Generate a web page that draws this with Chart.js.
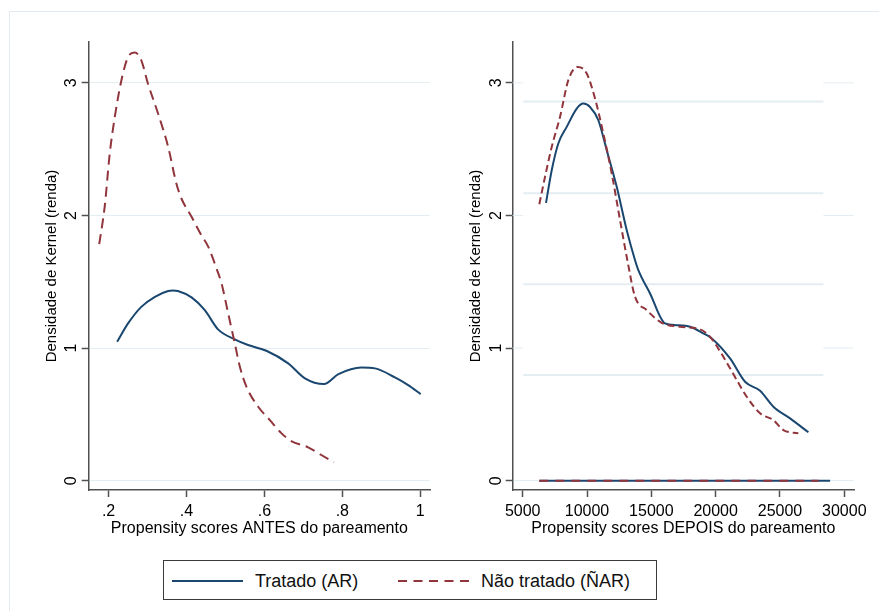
<!DOCTYPE html>
<html>
<head>
<meta charset="utf-8">
<script src="https://cdn.jsdelivr.net/npm/chart.js@4.4.1/dist/chart.umd.min.js"></script>
<style>
  html, body { margin: 0; padding: 0; background: #fff; }
  body { width: 879px; height: 611px; position: relative; overflow: hidden; font-family: "Liberation Sans", Arial, sans-serif; }
  #frame { position: absolute; left: 9px; top: 11px; width: 900px; height: 700px; border: 1px solid #e3ebf0; }
  canvas { position: absolute; top: 0; }
  #cLeft { left: 0; }
  #cRight { left: 440px; }
  #legend { position: absolute; left: 163px; top: 560px; width: 492px; height: 38px; border: 1px solid #3a3a3a; }
  #legend svg { position: absolute; top: 14px; }
  #legend span { position: absolute; top: 9px; font-size: 18px; color: #111; line-height: 22px; }
</style>
</head>
<body>
<div id="frame"></div>
<canvas id="cLeft" width="440" height="540"></canvas>
<canvas id="cRight" width="439" height="540"></canvas>
<div id="legend">
  <svg style="left:8px" width="72" height="12"><line x1="0" y1="6" x2="71" y2="6" stroke="#1a476f" stroke-width="2"/></svg>
  <span style="left:91px">Tratado (AR)</span>
  <svg style="left:234px" width="72" height="12"><line x1="0" y1="6" x2="71" y2="6" stroke="#90353b" stroke-width="2" stroke-dasharray="9 6.5"/></svg>
  <span style="left:317px">Não tratado (ÑAR)</span>
</div>
<script>
// left panel: before matching (propensity score)
const antesTratadoX = [0.222, 0.250, 0.284, 0.319, 0.353, 0.365, 0.378, 0.413, 0.447, 0.481, 0.524, 0.558, 0.605, 0.661, 0.704, 0.753, 0.790, 0.849, 0.884, 0.935, 0.969, 1.001];
const antesTratadoY = [1.048, 1.186, 1.311, 1.387, 1.430, 1.435, 1.430, 1.382, 1.286, 1.141, 1.066, 1.023, 0.980, 0.885, 0.772, 0.729, 0.804, 0.854, 0.847, 0.779, 0.721, 0.653];
const antesNaoX = [0.176, 0.190, 0.203, 0.216, 0.233, 0.250, 0.267, 0.284, 0.301, 0.327, 0.353, 0.374, 0.387, 0.413, 0.438, 0.456, 0.477, 0.490, 0.507, 0.524, 0.537, 0.554, 0.584, 0.614, 0.644, 0.669, 0.712, 0.746, 0.778];
const antesNaoY = [1.784, 2.065, 2.467, 2.743, 3.020, 3.195, 3.228, 3.170, 2.995, 2.769, 2.517, 2.241, 2.128, 1.990, 1.852, 1.763, 1.600, 1.487, 1.261, 1.035, 0.859, 0.708, 0.558, 0.457, 0.357, 0.299, 0.252, 0.194, 0.139];

// right panel: after matching
const depoisTratadoX = [6812, 7255, 7768, 8421, 9199, 9712, 10233, 10879, 11532, 12309, 13087, 13733, 13989, 14899, 16066, 16975, 18010, 19044, 19697, 21120, 22286, 23453, 24487, 25785, 27209];
const depoisTratadoY = [2.095, 2.341, 2.543, 2.668, 2.806, 2.844, 2.818, 2.718, 2.492, 2.216, 1.889, 1.663, 1.588, 1.412, 1.186, 1.173, 1.161, 1.111, 1.073, 0.922, 0.746, 0.678, 0.558, 0.470, 0.365];
const depoisNaoX = [6291, 6734, 7255, 7900, 8546, 9277, 9977, 10622, 11268, 11921, 12566, 13134, 13733, 14642, 15809, 17232, 18787, 19565, 20599, 21641, 22418, 23453, 24487, 25264, 26431];
const depoisNaoY = [2.085, 2.291, 2.517, 2.743, 3.020, 3.120, 3.070, 2.882, 2.618, 2.316, 1.965, 1.663, 1.387, 1.286, 1.191, 1.161, 1.141, 1.085, 0.934, 0.759, 0.633, 0.508, 0.457, 0.382, 0.357];
const zeroTratadoX = [6291, 28896];
const zeroNaoX = [6291, 28000];

// extra horizontal lines seen in the right panel
const refLevels = [2.859, 2.168, 1.482, 0.797];
const refRange = [5047, 28375];

// tick values
const yTicks = [0, 1, 2, 3];
const xTicksAntes = [0.2, 0.4, 0.6, 0.8, 1];
const xTicksDepois = [5000, 10000, 15000, 20000, 25000, 30000];

const BLUE = "#1a476f";
const RED = "#90353b";
const GRID = "#e4edf1";
const AXIS = "#505050";
const FONT = "'Liberation Sans', Arial, sans-serif";

const pts = (xs, ys) => xs.map((x, i) => ({ x: x, y: ys[i] }));

const line = (data, color, dash, order) => ({
  data: data,
  borderColor: color,
  borderWidth: 2,
  borderDash: dash,
  pointRadius: 0,
  fill: false,
  cubicInterpolationMode: "monotone",
  order: order
});

const refPlugin = {
  id: "refLines",
  beforeDatasetsDraw(chart) {
    if (chart.canvas.id !== "cRight") return;
    const { ctx, chartArea } = chart;
    const xs = chart.scales.x, ys = chart.scales.y;
    const a = xs.getPixelForValue(refRange[0]);
    const b = xs.getPixelForValue(refRange[1]);
    ctx.save();
    ctx.strokeStyle = GRID;
    ctx.lineWidth = 2;
    refLevels.forEach(v => {
      const py = ys.getPixelForValue(v);
      ctx.beginPath(); ctx.moveTo(a, py); ctx.lineTo(b, py); ctx.stroke();
    });
    ctx.lineWidth = 1;
    yTicks.filter(v => v > 0).forEach(v => {
      const py = ys.getPixelForValue(v);
      ctx.beginPath();
      ctx.moveTo(chartArea.left, py); ctx.lineTo(a, py);
      ctx.moveTo(b, py); ctx.lineTo(chartArea.right, py);
      ctx.stroke();
    });
    ctx.restore();
  }
};

function makeChart(id, cfg) {
  const ctx = document.getElementById(id).getContext("2d");
  return new Chart(ctx, {
    type: "line",
    data: { datasets: cfg.datasets },
    options: {
      responsive: false,
      animation: false,
      layout: { padding: { top: 42, right: cfg.padRight, left: 0, bottom: 0 } },
      plugins: { legend: { display: false }, tooltip: { enabled: false } },
      scales: {
        x: {
          type: "linear",
          min: cfg.xMin,
          max: cfg.xMax,
          afterFit: s => { s.height = 50; },
          afterBuildTicks: s => { s.ticks = cfg.xTicks.map(v => ({ value: v })); },
          border: { display: true, color: AXIS, width: 1.5 },
          grid: { drawOnChartArea: false, drawTicks: true, tickLength: 7, tickColor: AXIS, tickWidth: 1.5 },
          ticks: {
            autoSkip: false,
            maxRotation: 0,
            padding: 5,
            color: "#000",
            font: { family: FONT, size: 16 },
            callback: cfg.xFormat
          },
          title: {
            display: true,
            text: cfg.xTitle,
            color: "#000",
            font: { family: FONT, size: 16 },
            padding: { top: 0, bottom: 2 }
          }
        },
        y: {
          type: "linear",
          min: -0.07,
          max: 3.308,
          afterFit: s => { s.width = cfg.yWidth; },
          afterBuildTicks: s => { s.ticks = yTicks.map(v => ({ value: v })); },
          border: { display: true, color: AXIS, width: 1.5 },
          grid: {
            color: cfg.gridColor,
            lineWidth: 1,
            drawTicks: true,
            tickLength: 7,
            tickColor: AXIS,
            tickWidth: 1.5
          },
          ticks: {
            minRotation: 90,
            maxRotation: 90,
            crossAlign: "center",
            padding: cfg.yPad,
            color: "#000",
            font: { family: FONT, size: 16 }
          },
          title: {
            display: true,
            text: "Densidade de Kernel (renda)",
            color: "#000",
            font: { family: FONT, size: 15 },
            padding: { top: cfg.yTitlePad, bottom: 0 }
          }
        }
      }
    },
    plugins: [refPlugin]
  });
}

makeChart("cLeft", {
  datasets: [
    line(pts(antesNaoX, antesNaoY), RED, [10, 6], 0),
    line(pts(antesTratadoX, antesTratadoY), BLUE, [], 1)
  ],
  xMin: 0.149, xMax: 1.025, xTicks: xTicksAntes,
  xFormat: v => String(+v.toFixed(1)).replace(/^0\./, "."),
  xTitle: "Propensity scores ANTES do pareamento",
  yWidth: 88.7, padRight: 10, yPad: 5.5, yTitlePad: 42.5,
  gridColor: GRID
});

makeChart("cRight", {
  datasets: [
    line(pts(depoisNaoX, depoisNaoY), RED, [7, 4], 0),
    line(pts(zeroNaoX, zeroNaoX.map(() => 0)), RED, [9, 7], 0),
    line(pts(depoisTratadoX, depoisTratadoY), BLUE, [], 1),
    line(pts(zeroTratadoX, zeroTratadoX.map(() => 0)), BLUE, [], 1)
  ],
  xMin: 4222, xMax: 30754, xTicks: xTicksDepois,
  xFormat: v => String(v),
  xTitle: "Propensity scores DEPOIS do pareamento",
  yWidth: 72.7, padRight: 25, yPad: 5, yTitlePad: 27,
  gridColor: ctx => (ctx.tick && ctx.tick.value === 0 ? GRID : "rgba(0,0,0,0)")
});
</script>
</body>
</html>
